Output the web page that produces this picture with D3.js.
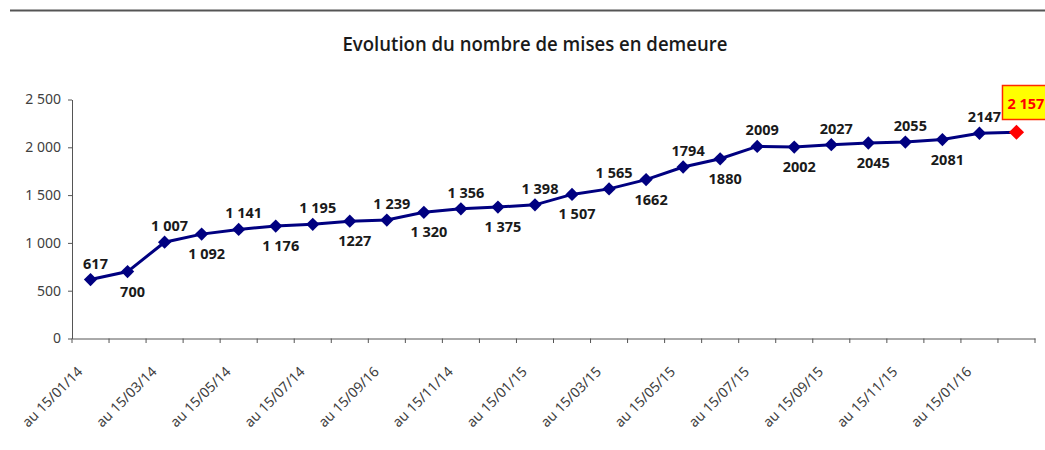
<!DOCTYPE html>
<html lang="fr">
<head>
<meta charset="utf-8">
<title>Evolution du nombre de mises en demeure</title>
<script src="https://cdn.jsdelivr.net/npm/d3@7/dist/d3.min.js"></script>
<style>
  body { margin: 0; background: #fff; }
  .title { font-family: "Open Sans", sans-serif; font-weight: 600; font-size: 20px; fill: #1a1a1a; }
  .axis path, .axis line { stroke: #555; }
  .axis text { font-family: "Noto Sans", sans-serif; font-size: 14px; fill: #404040; }
  .lbl { font-family: "Noto Sans", sans-serif; font-weight: bold; font-size: 14.5px; fill: #1a1a1a; }
</style>
</head>
<body>
<script>
// months (the sept. 2014 label carries the typo of the original)
var categories = ['au 15/01/14', 'au 15/02/14', 'au 15/03/14', 'au 15/04/14', 'au 15/05/14', 'au 15/06/14',
  'au 15/07/14', 'au 15/08/14', 'au 15/09/16', 'au 15/10/14', 'au 15/11/14', 'au 15/12/14',
  'au 15/01/15', 'au 15/02/15', 'au 15/03/15', 'au 15/04/15', 'au 15/05/15', 'au 15/06/15',
  'au 15/07/15', 'au 15/08/15', 'au 15/09/15', 'au 15/10/15', 'au 15/11/15', 'au 15/12/15',
  'au 15/01/16', 'au 15/02/16'];
var values = [617, 700, 1007, 1092, 1141, 1176, 1195, 1227, 1239, 1320, 1356, 1375, 1398,
  1507, 1565, 1662, 1794, 1880, 2009, 2002, 2027, 2045, 2055, 2081, 2147, 2157];
var valueLabels = ['617', '700', '1 007', '1 092', '1 141', '1 176', '1 195', '1227', '1 239', '1 320',
  '1 356', '1 375', '1 398', '1 507', '1 565', '1662', '1794', '1880', '2009', '2002', '2027',
  '2045', '2055', '2081', '2147', '2 157'];
var yTicks = [0, 500, 1000, 1500, 2000, 2500];
var yTickLabels = ['0', '500', '1 000', '1 500', '2 000', '2 500'];

var width = 1045, height = 450;
var svg = d3.select('body').append('svg')
  .attr('width', width)
  .attr('height', height);

// top rule
svg.append('line')
  .attr('x1', 10).attr('x2', width)
  .attr('y1', 10.5).attr('y2', 10.5)
  .style('stroke', '#555').style('stroke-width', 2);

svg.append('text')
  .attr('class', 'title')
  .attr('x', 535).attr('y', 51)
  .attr('text-anchor', 'middle')
  .attr('textLength', 385)
  .attr('lengthAdjust', 'spacingAndGlyphs')
  .text('Evolution du nombre de mises en demeure');

var x = d3.scaleBand().domain(categories).range([72, 1035]);
var y = d3.scaleLinear().domain([0, 2500]).range([338.5, 99.5]);
var cx = function(d, i){ return x(categories[i]) + x.bandwidth() / 2; };

// y axis
svg.append('g')
  .attr('class', 'axis')
  .attr('transform', 'translate(72,0)')
  .call(d3.axisLeft(y).tickValues(yTicks).tickSize(4).tickPadding(7).tickSizeOuter(0)
    .tickFormat(function(d, i){ return yTickLabels[i]; }));

// x axis, labels every other month
var xAxis = svg.append('g')
  .attr('class', 'axis')
  .attr('transform', 'translate(0,338.5)')
  .call(d3.axisBottom(x).tickSize(0).tickSizeOuter(0)
    .tickValues(categories.filter(function(d, i){ return i % 2 === 0; })));
xAxis.selectAll('text')
  .attr('text-anchor', 'end')
  .attr('dy', 0)
  .attr('transform', 'translate(-7,34) rotate(-45)')
  .attr('y', 0).attr('x', 0);

// tick marks between categories
svg.selectAll('.xtick')
  .data(categories.concat(['end']))
  .enter().append('line')
  .attr('class', 'xtick')
  .attr('x1', function(d, i){ return i < categories.length ? x(d) : x.range()[1]; })
  .attr('x2', function(d, i){ return i < categories.length ? x(d) : x.range()[1]; })
  .attr('y1', 338.5).attr('y2', 343)
  .style('stroke', '#555');

var line = d3.line()
  .x(function(d, i){ return cx(d, i); })
  .y(function(d){ return y(d); });

svg.append('path')
  .datum(values)
  .attr('d', line)
  .style('fill', 'none')
  .style('stroke', '#000080')
  .style('stroke-width', 3);

var last = values.length - 1;
svg.selectAll('.pt')
  .data(values)
  .enter().append('path')
  .attr('class', 'pt')
  .attr('d', function(d, i){ return d3.symbol(d3.symbolSquare, i === last ? 115 : 88)(); })
  .attr('transform', function(d, i){ return 'translate(' + cx(d, i) + ',' + y(d) + ') rotate(45)'; })
  .style('fill', function(d, i){ return i === last ? '#ff0000' : '#000080'; });

// value labels, alternating above / below
svg.selectAll('.lbl')
  .data(values.slice(0, last))
  .enter().append('text')
  .attr('class', 'lbl')
  .attr('text-anchor', 'middle')
  .attr('x', function(d, i){ return cx(d, i) + 5; })
  .attr('y', function(d, i){ return i % 2 === 0 ? y(d) - 11 : y(d) + 25; })
  .text(function(d, i){ return valueLabels[i]; });

// highlighted last value
var bx = cx(values[last], last) - 14;
svg.append('rect')
  .attr('x', bx).attr('y', 85.5)
  .attr('width', 50).attr('height', 34)
  .style('fill', '#ffff00')
  .style('stroke', '#ff2a00')
  .style('stroke-width', 1.5);
svg.append('text')
  .attr('class', 'lbl')
  .attr('x', bx + 5).attr('y', 109)
  .style('fill', '#ff0000')
  .text(valueLabels[last]);
</script>
</body>
</html>
